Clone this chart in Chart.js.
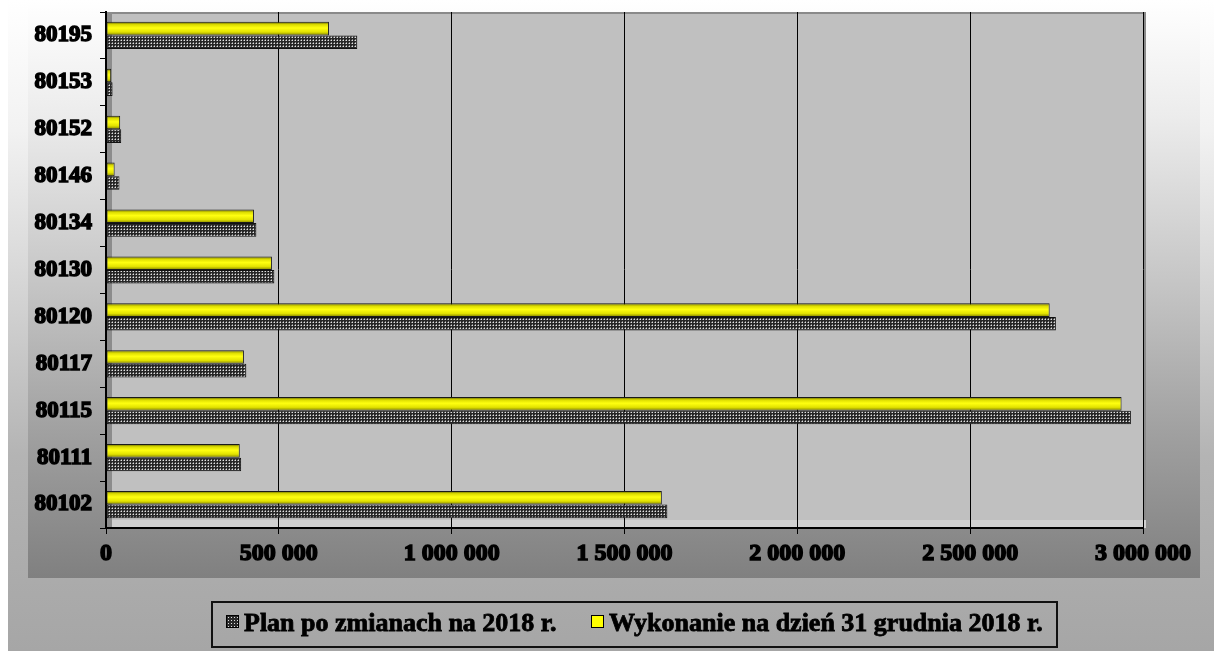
<!DOCTYPE html>
<html lang="pl">
<head>
<meta charset="utf-8">
<title>Dział 801 – Oświata i wychowanie</title>
<script src="https://cdn.jsdelivr.net/npm/chart.js@4.4.1/dist/chart.umd.min.js"></script>
<style>
  body { margin: 0; background: #fff; }
  #wrap { position: relative; width: 1214px; height: 651px; overflow: hidden; }
  #outer {
    position: absolute; left: 8px; top: 0; right: 0; bottom: 0;
    background: linear-gradient(to bottom, #ffffff 0%, #f2f2f2 20%, #d4d4d4 45%, #b4b4b4 70%, #a6a6a6 100%);
  }
  #inner {
    position: absolute; left: 28px; top: 0; width: 1172px; height: 578px;
    background: linear-gradient(to bottom, #ffffff 0%, #ececec 20%, #c4c4c4 50%, #a0a0a0 75%, #808080 100%);
  }
  #chart { position: absolute; left: 0; top: 0; }
  #legend {
    position: absolute; left: 211px; top: 601px; width: 843px; height: 43px;
    border: 2px solid #111;
    font: bold 26px "Liberation Serif", "Times New Roman", serif;
    color: #000;
    -webkit-text-stroke: 0.8px #000;
  }
  #legend .item { position: absolute; top: 5px; white-space: nowrap; line-height: 30px; }
  #legend .swatch {
    display: inline-block; width: 11px; height: 11px; border: 1px solid #000;
    margin-right: 5px; vertical-align: 3px;
  }
</style>
</head>
<body>
<div id="wrap">
  <div id="outer"></div>
  <div id="inner"></div>
  <canvas id="chart" width="1214" height="651"></canvas>
  <div id="legend"></div>
</div>
<script>
// rozdziały działu 801, od góry wykresu
const categories = ['80195', '80153', '80152', '80146', '80134', '80130', '80120', '80117', '80115', '80111', '80102'];
const planPoZmianach = [727000, 19000, 44000, 39000, 435000, 487000, 2748000, 406000, 2965000, 391000, 1624000];
const wykonanie = [645000, 15000, 41000, 25000, 428000, 480000, 2730000, 399000, 2938000, 387000, 1608000];
const xTicks = [0, 500000, 1000000, 1500000, 2000000, 2500000, 3000000];
const seriesNames = ['Plan po zmianach na 2018 r.', 'Wykonanie na dzień 31 grudnia 2018 r.'];

const FONT = '"Liberation Serif", "Times New Roman", serif';
const CAT_PCT = 0.58;

// kropkowany wzór dla słupków planu
function dotPattern() {
  const c = document.createElement('canvas');
  c.width = 3; c.height = 3;
  const g = c.getContext('2d');
  g.fillStyle = '#262626';
  g.fillRect(0, 0, 3, 3);
  g.fillStyle = '#808080';
  g.fillRect(1, 0, 1, 1);
  g.fillRect(0, 1, 1, 1);
  g.fillStyle = '#e2e2e2';
  g.fillRect(1, 1, 1, 1);
  return g.createPattern(c, 'repeat');
}

// żółty "walec" – gradient w poprzek słupka
function yellowFill(context) {
  const chart = context.chart;
  const area = chart.chartArea;
  if (!area || context.type !== 'data') return '#e8e800';
  const center = chart.scales.y.getPixelForValue(context.dataIndex);
  const slot = (area.bottom - area.top) / categories.length * CAT_PCT;
  const top = center - slot / 2;
  const g = chart.ctx.createLinearGradient(0, top, 0, center);
  g.addColorStop(0, '#5a5a00');
  g.addColorStop(0.2, '#dcdc00');
  g.addColorStop(0.45, '#ffff10');
  g.addColorStop(0.75, '#e2e200');
  g.addColorStop(1, '#7c7c00');
  return g;
}

const fmt = v => String(v).replace(/\B(?=(\d{3})+(?!\d))/g, ' ');

// tło obszaru kreślenia: tylna ściana, lewa ściana boczna i podłoga
const plotBackground = {
  id: 'plotBackground',
  beforeDraw(chart) {
    const { ctx, chartArea: a } = chart;
    ctx.save();
    ctx.fillStyle = '#c0c0c0';
    ctx.fillRect(a.left, a.top, a.right - a.left + 3, a.bottom - a.top);
    ctx.fillStyle = '#d0d0d0';
    ctx.fillRect(a.left + 6, a.bottom - 8, a.right - a.left - 3, 8);
    ctx.fillStyle = '#8c8c8c';
    ctx.fillRect(a.left, a.top, 6, a.bottom - a.top);
    ctx.strokeStyle = '#8a8a8a';
    ctx.lineWidth = 2;
    ctx.beginPath();
    ctx.moveTo(a.left + 6, a.top + 1);
    ctx.lineTo(a.right + 2, a.top + 1);
    ctx.lineTo(a.right + 2, a.bottom - 8);
    ctx.stroke();
    ctx.restore();
  }
};

const pattern = dotPattern();

const chart = new Chart(document.getElementById('chart'), {
  type: 'bar',
  data: {
    labels: categories,
    datasets: [{
      label: seriesNames[1],
      data: wykonanie,
      backgroundColor: yellowFill,
      borderColor: '#1a1a1a',
      borderWidth: 1,
      borderSkipped: false
    }, {
      label: seriesNames[0],
      data: planPoZmianach,
      backgroundColor: pattern,
      borderColor: '#111',
      borderWidth: 1,
      borderSkipped: false
    }]
  },
  options: {
    indexAxis: 'y',
    responsive: false,
    animation: false,
    layout: { padding: { top: 12, right: 71, bottom: 73, left: 0 } },
    datasets: { bar: { categoryPercentage: CAT_PCT, barPercentage: 1 } },
    plugins: {
      legend: { display: false },
      tooltip: { enabled: false }
    },
    scales: {
      x: {
        min: 0,
        max: 3000000,
        afterBuildTicks: scale => { scale.ticks = xTicks.map(v => ({ value: v })); },
        afterFit: scale => {
          scale.height = 50;
          scale.paddingLeft = 0;
          scale.paddingRight = 0;
        },
        grid: { color: '#000', lineWidth: 1, tickLength: 6 },
        border: { color: '#000', width: 2 },
        ticks: {
          color: '#000',
          padding: 5,
          maxRotation: 0,
          font: { family: FONT, size: 24, weight: 'bold' },
          textStrokeColor: '#000',
          textStrokeWidth: 1.5,
          callback: v => fmt(v)
        }
      },
      y: {
        afterFit: scale => {
          scale.width = 106;
          scale.paddingTop = 0;
          scale.paddingBottom = 0;
        },
        grid: { drawOnChartArea: false, color: '#000', tickLength: 6 },
        border: { color: '#000', width: 2 },
        ticks: {
          color: '#000',
          padding: 8,
          font: { family: FONT, size: 23, weight: 'bold' },
          textStrokeColor: '#000',
          textStrokeWidth: 1.5
        }
      }
    }
  },
  plugins: [plotBackground]
});

// legenda w ramce, w kolejności serii jak w zestawieniu
const legend = document.getElementById('legend');
const swatchStyles = [
  'background-color:#2a2a2a;background-image:radial-gradient(circle,#e0e0e0 0.7px,transparent 1px);background-size:3px 3px;',
  'background:#ffff00;'
];
const offsets = [13, 378];
seriesNames.forEach((name, i) => {
  const item = document.createElement('span');
  item.className = 'item';
  item.style.left = offsets[i] + 'px';
  item.innerHTML = '<span class="swatch" style="' + swatchStyles[i] + '"></span>' + name;
  legend.appendChild(item);
});
</script>
</body>
</html>
